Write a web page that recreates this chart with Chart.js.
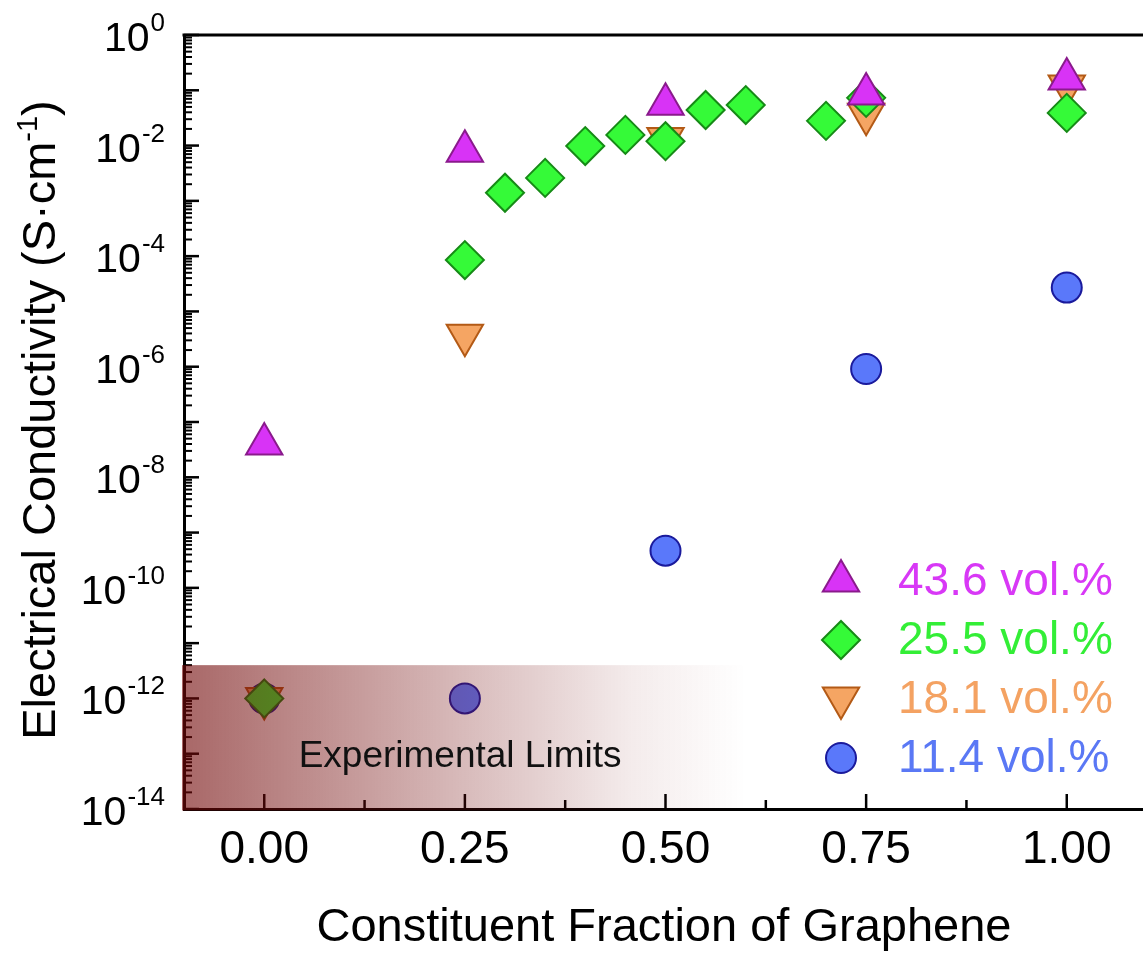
<!DOCTYPE html>
<html><head><meta charset="utf-8">
<script src="https://cdn.jsdelivr.net/npm/chart.js@4.4.1/dist/chart.umd.min.js"></script>
<style>html,body{margin:0;padding:0;background:#fff;overflow:hidden}#wrap{width:1143px;height:954px;position:relative}</style>
</head><body><div id="wrap"><canvas id="c" width="1143" height="954"></canvas></div>
<script>
// ---- data ----
const xTickValues = [0, 0.25, 0.5, 0.75, 1.0];
const xTickLabels = ['0.00', '0.25', '0.50', '0.75', '1.00'];
const xMinorTickValues = [0.125, 0.375, 0.625, 0.875];
const yLabelExponents = [0, -2, -4, -6, -8, -10, -12, -14];
const seriesNames = ['43.6 vol.%', '25.5 vol.%', '18.1 vol.%', '11.4 vol.%'];

const x436 = [0, 0.25, 0.5, 0.75, 1.0];
const y436 = [4.0e-8, 7.9e-3, 0.056, 0.086, 0.16];

const x255 = [0, 0.25, 0.3, 0.35, 0.4, 0.45, 0.5, 0.55, 0.6, 0.7, 0.75, 1.0];
const y255 = [1.0e-12, 8.5e-5, 1.4e-3, 2.6e-3, 0.0098, 0.0156, 0.012, 0.044, 0.054, 0.028, 0.073, 0.039];

const x181 = [0, 0.25, 0.5, 0.75, 1.0];
const y181 = [1.0e-12, 3.7e-6, 0.0134, 0.037, 0.12];

const x114 = [0, 0.25, 0.5, 0.75, 1.0];
const y114 = [1.0e-12, 1.0e-12, 4.7e-10, 9.1e-7, 2.7e-5];

const limitValue = 4e-12;       // upper edge of the "Experimental Limits" band
const limitLabel = 'Experimental Limits';

// ---- styles ----
const FONT = '"Liberation Sans", Arial, Helvetica, sans-serif';
const styles = [
  {fill: '#d833f6', stroke: '#8a1a8c', text: '#d838f6', pointStyle: 'triangle', radius: 21, rotation: 0},
  {fill: '#35fa38', stroke: '#168a16', text: '#33ee36', pointStyle: 'rectRot', radius: 19, rotation: 0},
  {fill: '#f5a563', stroke: '#b35a16', text: '#f4a262', pointStyle: 'triangle', radius: 21, rotation: 180},
  {fill: '#5a78fa', stroke: '#1a1a9c', text: '#5a78f5', pointStyle: 'circle', radius: 15, rotation: 0}
];
const xs = [x436, x255, x181, x114];
const ys = [y436, y255, y181, y114];

const datasets = seriesNames.map((name, i) => ({
  label: name,
  data: xs[i].map((v, j) => ({x: v, y: ys[i][j]})),
  backgroundColor: styles[i].fill,
  borderColor: styles[i].stroke,
  pointBackgroundColor: styles[i].fill,
  pointBorderColor: styles[i].stroke,
  pointBorderWidth: 2,
  pointStyle: styles[i].pointStyle,
  pointRadius: styles[i].radius,
  pointHoverRadius: styles[i].radius,
  pointRotation: styles[i].rotation,
  showLine: false,
  clip: false
}));

function drawMarker(ctx, st, px, py) {
  ctx.save();
  ctx.fillStyle = st.fill; ctx.strokeStyle = st.stroke; ctx.lineWidth = 2;
  if (Chart.helpers && Chart.helpers.drawPoint) {
    Chart.helpers.drawPoint(ctx, {pointStyle: st.pointStyle, radius: st.radius, rotation: st.rotation, borderWidth: 2}, px, py);
  }
  ctx.restore();
}

const decor = {
  id: 'decor',
  beforeDatasetsDraw(chart) {
    const {ctx, chartArea: ca, scales: {x, y}} = chart;
    ctx.save();
    ctx.strokeStyle = '#000';
    // top frame line
    ctx.lineWidth = 3;
    ctx.beginPath(); ctx.moveTo(ca.left - 1.5, ca.top); ctx.lineTo(ca.right, ca.top); ctx.stroke();
    // y ticks (inward)
    ctx.lineWidth = 2.5;
    for (let e = -14; e <= 0; e++) {
      const py = y.getPixelForValue(Math.pow(10, e));
      ctx.beginPath(); ctx.moveTo(ca.left, py); ctx.lineTo(ca.left + 15, py); ctx.stroke();
      if (e < 0) {
        for (let k = 2; k <= 9; k++) {
          const pm = y.getPixelForValue(k * Math.pow(10, e));
          ctx.lineWidth = 2;
          ctx.beginPath(); ctx.moveTo(ca.left, pm); ctx.lineTo(ca.left + 8, pm); ctx.stroke();
          ctx.lineWidth = 2.5;
        }
      }
    }
    // x ticks (inward)
    xTickValues.forEach(v => {
      const px = x.getPixelForValue(v);
      ctx.beginPath(); ctx.moveTo(px, ca.bottom); ctx.lineTo(px, ca.bottom - 15); ctx.stroke();
    });
    xMinorTickValues.forEach(v => {
      const px = x.getPixelForValue(v);
      ctx.beginPath(); ctx.moveTo(px, ca.bottom); ctx.lineTo(px, ca.bottom - 9); ctx.stroke();
    });
    ctx.restore();
  },
  afterDatasetsDraw(chart) {
    const {ctx, chartArea: ca, scales: {x, y}} = chart;
    const top = y.getPixelForValue(limitValue);
    const x0 = ca.left - 2, x1 = x.getPixelForValue(0.6);
    const g = ctx.createLinearGradient(x0, 0, x1, 0);
    g.addColorStop(0, 'rgba(115,10,10,0.62)');
    g.addColorStop(0.5, 'rgba(115,10,10,0.28)');
    g.addColorStop(0.8, 'rgba(115,10,10,0.08)');
    g.addColorStop(1, 'rgba(115,10,10,0)');
    ctx.save();
    ctx.fillStyle = g;
    ctx.fillRect(x0, top, x1 - x0, ca.bottom + 1.5 - top);
    // band label
    ctx.fillStyle = '#111';
    ctx.font = '37px ' + FONT;
    ctx.textAlign = 'center';
    ctx.textBaseline = 'alphabetic';
    ctx.fillText(limitLabel, x.getPixelForValue(0.244), y.getPixelForValue(1e-13) + 13);
    ctx.restore();
  },
  afterDraw(chart) {
    const {ctx, chartArea: ca, scales: {x, y}} = chart;
    ctx.save();
    ctx.fillStyle = '#000';
    // x tick labels
    ctx.font = '46px ' + FONT;
    ctx.textAlign = 'center';
    ctx.textBaseline = 'alphabetic';
    xTickValues.forEach((v, i) => ctx.fillText(xTickLabels[i], x.getPixelForValue(v), ca.bottom + 54));
    // y tick labels with superscripts
    yLabelExponents.forEach(e => {
      const py = y.getPixelForValue(Math.pow(10, e));
      const sup = e === 0 ? '0' : '-' + Math.abs(e);
      ctx.font = '26px ' + FONT;
      const sw = ctx.measureText(sup).width;
      ctx.textAlign = 'left';
      ctx.fillText(sup, 165 - sw, py - 4);
      ctx.font = '41px ' + FONT;
      ctx.textAlign = 'right';
      ctx.fillText('10', 165 - sw - 1, py + 16);
    });
    // x axis title
    ctx.font = '47px ' + FONT;
    ctx.textAlign = 'center';
    ctx.fillText('Constituent Fraction of Graphene', 664, 941);
    // y axis title (rotated, with superscript)
    ctx.save();
    ctx.translate(55, 420);
    ctx.rotate(-Math.PI / 2);
    const p1 = 'Electrical Conductivity (S\u00B7cm', p2 = '-1', p3 = ')';
    ctx.font = '47px ' + FONT;
    const w1 = ctx.measureText(p1).width, w3 = ctx.measureText(p3).width;
    ctx.font = '29px ' + FONT;
    const w2 = ctx.measureText(p2).width;
    let cx = -(w1 + w2 + w3) / 2;
    ctx.textAlign = 'left';
    ctx.font = '47px ' + FONT; ctx.fillText(p1, cx, 0); cx += w1;
    ctx.font = '29px ' + FONT; ctx.fillText(p2, cx, -18); cx += w2;
    ctx.font = '47px ' + FONT; ctx.fillText(p3, cx, 0);
    ctx.restore();
    // legend
    const rows = [578, 637, 696, 755];
    seriesNames.forEach((name, i) => {
      const st = styles[i];
      const my = st.pointStyle === 'triangle' ? (st.rotation ? rows[i] + 2 : rows[i] + 3) : rows[i] + 3;
      drawMarker(ctx, st, 841, my);
      ctx.font = '46px ' + FONT;
      ctx.fillStyle = st.text;
      ctx.textAlign = 'left';
      ctx.fillText(name, 898, rows[i] + 17);
    });
    ctx.restore();
  }
};

new Chart(document.getElementById('c'), {
  type: 'scatter',
  data: {datasets},
  options: {
    responsive: false,
    devicePixelRatio: 1,
    animation: false,
    events: [],
    layout: {autoPadding: false, padding: {top: 35, right: 0, left: 0, bottom: 0}},
    plugins: {legend: {display: false}, tooltip: {enabled: false}},
    scales: {
      x: {
        type: 'linear', position: 'bottom', min: -0.1, max: 1.095,
        afterBuildTicks: s => { s.ticks = xTickValues.map(v => ({value: v})); },
        afterFit: s => { s.height = 145; s.paddingLeft = 0; s.paddingRight = 0; },
        ticks: {display: false},
        grid: {display: true, drawOnChartArea: false, drawTicks: false},
        border: {display: true, color: '#000', width: 3}
      },
      y: {
        type: 'logarithmic', position: 'left', min: 1e-14, max: 1,
        afterBuildTicks: s => { s.ticks = yLabelExponents.map(e => ({value: Math.pow(10, e)})); },
        afterFit: s => { s.width = 184; s.paddingTop = 0; s.paddingBottom = 0; },
        ticks: {display: false},
        grid: {display: true, drawOnChartArea: false, drawTicks: false},
        border: {display: true, color: '#000', width: 3}
      }
    }
  },
  plugins: [decor]
});
</script>
</body></html>
